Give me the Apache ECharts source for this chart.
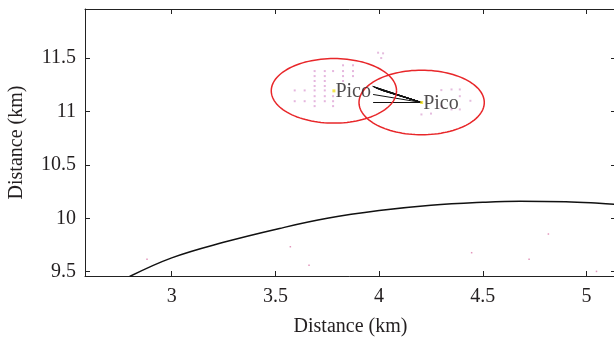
<!DOCTYPE html>
<html>
<head>
<meta charset="utf-8">
<script src="https://cdn.jsdelivr.net/npm/echarts@6/dist/echarts.min.js"></script>
<style>
html,body{margin:0;padding:0;background:#fff;}
#c{width:614px;height:338px;}
</style>
</head>
<body>
<div id="c"></div>
<script>
// ---- data ----
const xTicks = [3, 3.5, 4, 4.5, 5];
const yTicks = [9.5, 10, 10.5, 11, 11.5];

// boundary curve
const curveX = [2.797, 3.00, 3.25, 3.52, 3.75, 4.00, 4.25, 4.50, 4.68, 4.90, 5.06, 5.15];
const curveY = [9.455, 9.630, 9.775, 9.905, 10.000, 10.072, 10.122, 10.150, 10.160, 10.155, 10.141, 10.130];

// pico cells (centres) and coverage circles
const picoNames = ['Pico', 'Pico'];
const picoX = [3.782, 4.205];
const picoY = [11.193, 11.084];
const circleR = [0.302, 0.302];

// fan of link lines from the right pico to points near the left pico
const fanX = [3.968, 3.972, 3.976, 3.981, 3.985, 3.990, 3.996, 4.001, 4.006, 4.011, 4.017, 3.971, 3.971];
const fanY = [11.236, 11.232, 11.228, 11.223, 11.219, 11.215, 11.211, 11.207, 11.203, 11.199, 11.195, 11.159, 11.082];

// user points (grid around left pico)
const dotsLX = [3.826, 3.874, 3.689, 3.738, 3.778, 3.826, 3.874, 3.689, 3.738, 3.826, 3.874, 3.689, 3.738, 3.826,
                3.689, 3.738, 3.593, 3.641, 3.689, 3.738, 3.689, 3.738, 3.778, 3.593, 3.641, 3.689, 3.738, 3.778, 3.689, 3.778];
const dotsLY = [11.432, 11.432, 11.378, 11.378, 11.378, 11.378, 11.378, 11.331, 11.331, 11.331, 11.331, 11.285, 11.285, 11.285,
                11.238, 11.238, 11.197, 11.197, 11.197, 11.197, 11.143, 11.143, 11.143, 11.096, 11.096, 11.096, 11.096, 11.096, 11.050, 11.050];
// user points around right pico
const dotsRX = [4.349, 4.389, 4.389, 4.349, 4.389, 4.204, 4.300, 4.300, 4.250, 4.440, 4.019, 3.995, 4.010];
const dotsRY = [11.206, 11.206, 11.143, 11.019, 11.019, 10.972, 11.200, 11.050, 10.980, 11.100, 11.544, 11.550, 11.500];
// stray points
const dotsSX = [2.881, 3.572, 3.662, 4.446, 4.723, 4.816, 5.048];
const dotsSY = [9.616, 9.734, 9.560, 9.678, 9.616, 9.853, 9.503];

// ---- chart ----
const FONT = 'Liberation Serif';
const TXT = '#231f20';
const AX = '#222222';

function zip(a, b) { return a.map((v, i) => [v, b[i]]); }

const chart = echarts.init(document.getElementById('c'), null, {renderer: 'canvas'});

const baseX = {
  type: 'value', min: 2.582, max: 5.142, splitLine: {show: false},
  axisLine: {show: true, onZero: false, lineStyle: {color: AX, width: 1}},
  axisTick: {show: true, inside: true, length: 5, customValues: xTicks, lineStyle: {color: AX}},
  axisLabel: {show: false}
};
const baseY = {
  type: 'value', min: 9.46, max: 11.959, splitLine: {show: false},
  axisLine: {show: true, onZero: false, lineStyle: {color: AX, width: 1}},
  axisTick: {show: true, inside: true, length: 5, customValues: yTicks, lineStyle: {color: AX}},
  axisLabel: {show: false}
};

const option = {
  animation: false,
  backgroundColor: '#fff',
  grid: {left: 85, top: 9, width: 531, height: 267, containLabel: false, outerBoundsMode: 'none'},
  xAxis: [
    Object.assign({}, baseX, {
      position: 'bottom',
      name: 'Distance (km)', nameLocation: 'middle', nameGap: 41,
      nameTextStyle: {fontFamily: FONT, fontSize: 20, color: TXT},
      axisLabel: {show: true, customValues: xTicks, margin: 11, fontFamily: FONT, fontSize: 20, color: TXT,
                  formatter: v => String(v)}
    }),
    Object.assign({}, baseX, {position: 'top'})
  ],
  yAxis: [
    Object.assign({}, baseY, {
      position: 'left',
      name: 'Distance (km)', nameLocation: 'middle', nameGap: 58,
      nameTextStyle: {fontFamily: FONT, fontSize: 20, color: TXT},
      axisLabel: {show: true, customValues: yTicks, margin: 9, fontFamily: FONT, fontSize: 20, color: TXT,
                  formatter: v => String(v)}
    }),
    Object.assign({}, baseY, {position: 'right'})
  ],
  series: [
    {
      type: 'line', data: zip(curveX, curveY), smooth: 0.4, symbol: 'none', clip: true,
      lineStyle: {color: '#111', width: 1.5}
    },
    {
      type: 'scatter', data: zip(dotsLX, dotsLY), symbol: 'rect', symbolSize: 2,
      itemStyle: {color: '#c050b0', opacity: 0.42}
    },
    {
      type: 'scatter', data: zip(dotsRX, dotsRY), symbol: 'rect', symbolSize: 2,
      itemStyle: {color: '#c060b0', opacity: 0.42}
    },
    {
      type: 'scatter', data: zip(dotsSX, dotsSY), symbol: 'rect', symbolSize: 1.5,
      itemStyle: {color: '#d05090', opacity: 0.6}
    },
    {
      type: 'lines', coordinateSystem: 'cartesian2d', polyline: false,
      data: fanX.map((x, i) => ({coords: [[x, fanY[i]], [picoX[1], picoY[1]]]})),
      lineStyle: {color: '#111', width: 1, opacity: 1}
    },
    {
      type: 'custom', coordinateSystem: 'cartesian2d',
      data: picoX.map((x, i) => [x, picoY[i], circleR[i]]),
      renderItem: function (params, api) {
        const cx = api.value(0), cy = api.value(1), r = api.value(2);
        const pts = [];
        for (let k = 0; k <= 120; k++) {
          const t = k / 120 * Math.PI * 2;
          pts.push(api.coord([cx + r * Math.cos(t), cy + r * Math.sin(t)]));
        }
        return {type: 'polyline', shape: {points: pts},
                style: {stroke: '#e8272a', fill: null, lineWidth: 1.5}};
      },
      z: 3
    },
    {
      type: 'scatter', data: picoX.map((x, i) => ({value: [x, picoY[i]], name: picoNames[i]})),
      symbol: 'rect', symbolSize: 3, itemStyle: {color: '#f0e020'},
      label: {show: true, position: 'right', distance: 0, offset: [0, 1], formatter: p => p.name,
              fontFamily: FONT, fontSize: 20, color: TXT},
      z: 5
    }
  ]
};
chart.setOption(option);
</script>
</body>
</html>
